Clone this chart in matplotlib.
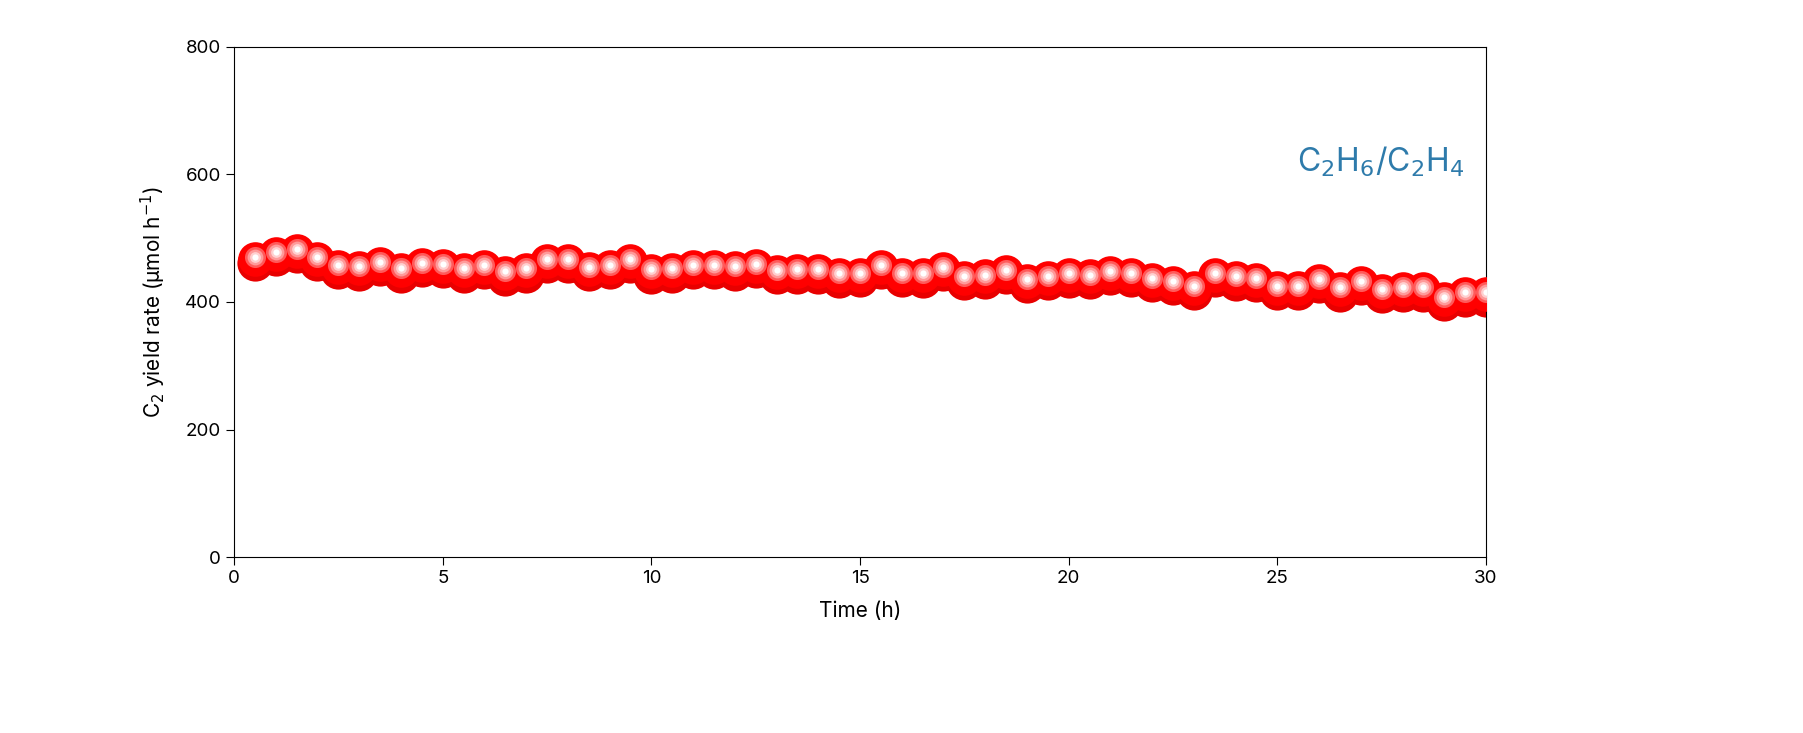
import numpy as np
import matplotlib.pyplot as plt

plt.rcParams['font.family'] = ['Inter', 'DejaVu Sans']

time_h = np.arange(1, 61) * 0.5
yield_rate = [468, 476, 480, 468, 455, 453, 460, 450, 458, 457,
              450, 455, 445, 450, 465, 465, 452, 455, 465, 448,
              450, 455, 455, 453, 457, 447, 448, 448, 442, 443,
              455, 443, 442, 452, 438, 440, 447, 433, 438, 442,
              440, 446, 443, 435, 430, 422, 443, 437, 435, 422,
              422, 433, 420, 430, 418, 420, 420, 405, 412, 412]

fig = plt.figure(figsize=(18.03, 7.33), dpi=100)
ax = fig.add_axes([0.1298, 0.2401, 0.6944, 0.6958])

# shaded sphere markers: shadow, body, then highlight layers
y = np.array(yield_rate)
ax.scatter(time_h, y - 7, s=680, color='#e80000', lw=0, zorder=2)
ax.scatter(time_h, y, s=620, color='#ff0000', lw=0, zorder=3)
for s, c in [(230, '#ff5a5a'), (130, '#ff9a9a'), (60, '#ffd0d0'), (20, '#ffffff')]:
    ax.scatter(time_h, y + 3, s=s, color=c, lw=0, zorder=4)

ax.set_xlim(0, 30)
ax.set_ylim(0, 800)
ax.set_xticks([0, 5, 10, 15, 20, 25, 30])
ax.set_yticks([0, 200, 400, 600, 800])
ax.tick_params(direction='out', length=6, labelsize=13.5, top=False, right=False)
for sp in ax.spines.values():
    sp.set_linewidth(0.8)
ax.set_xlabel('Time (h)', fontsize=15, labelpad=10)
ax.set_ylabel('C$_2$ yield rate (µmol h$^{-1}$)', fontsize=15, labelpad=12)
ax.text(0.983, 0.775, 'C$_2$H$_6$/C$_2$H$_4$', transform=ax.transAxes, ha='right',
        va='center', fontsize=23, color='#2e7bab')

fig.savefig('out.png', dpi=100)
